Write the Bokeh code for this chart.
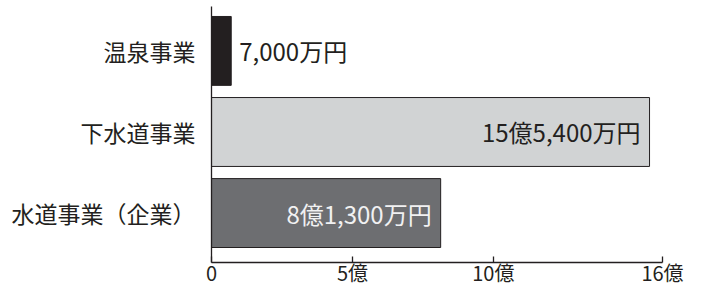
from bokeh.plotting import figure
from bokeh.models import ColumnDataSource, FixedTicker
from bokeh.core.properties import value
from bokeh.embed import file_html
from bokeh.resources import INLINE

# Data (units: 億円)
categories = ["水道事業（企業）", "下水道事業", "温泉事業"]
amounts = [8.13, 15.54, 0.70]
amount_labels = ["8億1,300万円", "15億5,400万円", "7,000万円"]
bar_colors = ["#6d6e71", "#d1d3d4", "#231f20"]
tick_values = [0, 5, 10, 16]
tick_labels = ["0", "5億", "10億", "16億"]

FONT = "Noto Sans CJK JP"
DARK = "#231f20"

ypos = list(range(len(categories)))
inside = [a > 2 for a in amounts]
src = ColumnDataSource(dict(
    y=ypos,
    right=amounts,
    color=bar_colors,
    label=amount_labels,
    align=["right" if i else "left" for i in inside],
    xoff=[-9 if i else 8 for i in inside],
    tcolor=["#f1f1f2" if c == "#6d6e71" else DARK for c in bar_colors],
))

Y_TOP, Y_BOTTOM = 2.622, -0.610
Y_LINE_TOP = 2.549

p = figure(width=690, height=289, output_backend="svg", toolbar_location=None,
           x_range=(0, 16), y_range=(Y_BOTTOM, Y_TOP),
           min_border_left=211, min_border_right=28, min_border_top=0,
           min_border_bottom=20)

p.hbar(y="y", right="right", left=0, height=0.85, source=src,
       fill_color="color", line_color=DARK, line_width=1)

p.text(x="right", y="y", text="label", source=src,
       text_align="align", x_offset="xoff", text_baseline="middle",
       text_color="tcolor", text_font=value(FONT), text_font_size="24px")

p.xgrid.visible = False
p.ygrid.visible = False
p.outline_line_color = None
p.background_fill_color = "white"
p.border_fill_color = "white"

xa = p.xaxis[0]
xa.ticker = FixedTicker(ticks=tick_values)
xa.major_label_overrides = {v: l for v, l in zip(tick_values, tick_labels)}
xa.major_tick_in = 6
xa.major_tick_out = 0
xa.minor_tick_line_color = None
xa.axis_line_color = DARK
xa.axis_line_width = 1.3
xa.major_tick_line_color = DARK
xa.major_tick_line_width = 1.3
xa.major_label_standoff = -5
xa.major_label_text_font = FONT
xa.major_label_text_font_size = "20px"
xa.major_label_text_color = DARK

ya = p.yaxis[0]
ya.bounds = (Y_BOTTOM, Y_LINE_TOP)
ya.ticker = FixedTicker(ticks=ypos)
ya.major_label_overrides = {i: c for i, c in zip(ypos, categories)}
ya.major_tick_line_color = None
ya.minor_tick_line_color = None
ya.axis_line_color = DARK
ya.axis_line_width = 1.3
ya.major_label_standoff = 10
ya.major_label_text_font = FONT
ya.major_label_text_font_size = "23px"
ya.major_label_text_color = DARK

open("out.html", "w").write(file_html(p, INLINE))
